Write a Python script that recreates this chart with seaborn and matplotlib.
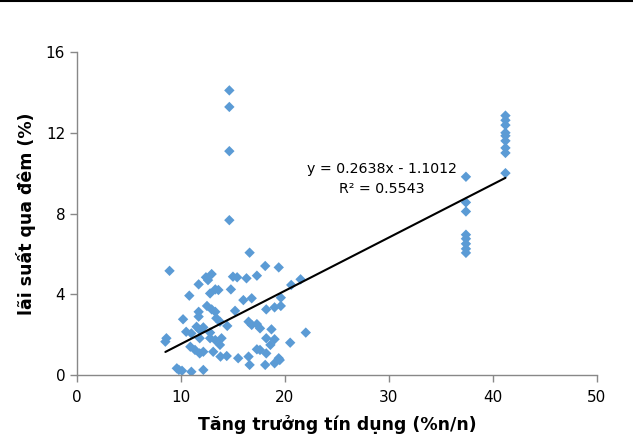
import matplotlib
matplotlib.use("Agg")
import matplotlib.pyplot as plt
from matplotlib.lines import Line2D
import numpy as np
import pandas as pd
import seaborn as sns

# Credit growth (%y/y) vs overnight interbank rate (%)
credit_growth = [
    8.9, 16.6, 18.1, 19.4, 12.4, 12.95, 12.6, 11.7, 15.0, 15.4, 16.3, 17.3,
    13.3, 13.6, 12.8, 10.8, 14.8, 21.5, 20.6, 19.6, 16.0, 16.8,
    12.5, 12.95, 13.3, 11.7, 11.7, 15.2, 18.2, 19.0, 19.6,
    10.2, 13.4, 13.75, 16.5, 16.8, 17.3, 17.6, 11.5, 11.8, 12.15, 10.5, 11.0,
    14.45, 18.7, 22.0, 8.6, 8.5, 12.8, 12.8, 13.3, 13.9, 13.75, 11.8,
    18.2, 19.0, 18.6, 20.5, 10.9, 11.35, 11.8, 12.15, 13.1, 17.3, 17.6, 18.2,
    13.8, 14.4, 15.5, 16.5, 16.6, 18.1, 19.0, 19.4, 19.5,
    9.6, 9.8, 10.1, 11.0, 12.15,
    14.65, 14.65, 14.65, 14.65,
    37.4, 37.4, 37.4, 37.4, 37.4, 37.4, 37.4, 37.4,
    41.2, 41.2, 41.2, 41.2, 41.2, 41.2, 41.2, 41.2, 41.2,
]
overnight_rate = [
    5.16, 6.06, 5.40, 5.33, 4.84, 5.00, 4.70, 4.49, 4.87, 4.84, 4.79, 4.92,
    4.24, 4.21, 4.04, 3.93, 4.24, 4.74, 4.46, 3.83, 3.71, 3.80,
    3.42, 3.25, 3.13, 3.13, 2.89, 3.18, 3.25, 3.35, 3.42,
    2.76, 2.81, 2.64, 2.64, 2.48, 2.52, 2.31, 2.39, 2.23, 2.36, 2.14, 2.06,
    2.43, 2.26, 2.10, 1.82, 1.65, 2.10, 1.82, 1.73, 1.82, 1.49, 1.82,
    1.82, 1.77, 1.49, 1.60, 1.40, 1.24, 1.07, 1.15, 1.15, 1.27, 1.24, 1.07,
    0.91, 0.94, 0.83, 0.91, 0.50, 0.50, 0.58, 0.83, 0.74,
    0.33, 0.25, 0.21, 0.16, 0.25,
    14.1, 13.28, 11.09, 7.67,
    9.82, 8.55, 8.1, 6.95, 6.75, 6.5, 6.25, 6.05,
    12.85, 12.62, 12.38, 12.0, 11.85, 11.6, 11.25, 11.0, 10.0,
]

# Linear trendline as reported on the chart
slope = 0.2638
intercept = -1.1012
r_squared = 0.5543

df = pd.DataFrame({"x": credit_growth, "y": overnight_rate})

sns.set_style("white")
plt.rcParams["font.family"] = ["DejaVu Sans"]
plt.rcParams["text.color"] = "black"
plt.rcParams["axes.labelcolor"] = "black"

fig = plt.figure(figsize=(6.33, 4.41), dpi=100)
ax = fig.add_axes([0.1216, 0.1497, 0.8215, 0.7323])

sns.scatterplot(data=df, x="x", y="y", marker="D", s=28, color="#5B9BD5",
                edgecolor="none", linewidth=0, ax=ax, zorder=2)

x_fit = np.array([df["x"].min(), df["x"].max()])
fit = pd.DataFrame({"x": x_fit, "y": slope * x_fit + intercept})
sns.lineplot(data=fit, x="x", y="y", color="black", linewidth=1.5, ax=ax, zorder=3)

ax.text(29.3, 9.7, f"y = {slope:.4f}x - {abs(intercept):.4f}\nR² = {r_squared:.4f}",
        ha="center", va="center", multialignment="center", fontsize=10.2,
        linespacing=1.5, color="black", zorder=4)

ax.set_xlim(0, 50)
ax.set_ylim(0, 16)
ax.set_xticks(range(0, 51, 10))
ax.set_yticks(range(0, 17, 4))
ax.set_xlabel("Tăng trưởng tín dụng (%n/n)", fontsize=12.5, fontweight="bold", labelpad=7)
ax.set_ylabel("lãi suất qua đêm (%)", fontsize=12.5, fontweight="bold", labelpad=7)

for side in ["top", "right"]:
    ax.spines[side].set_visible(False)
for side in ["left", "bottom"]:
    ax.spines[side].set_color("#888888")
    ax.spines[side].set_linewidth(1)
ax.tick_params(axis="both", direction="out", length=5, width=1, color="#888888",
               labelsize=11, labelcolor="black", left=True, bottom=True)
ax.tick_params(axis="x", pad=6)

fig.add_artist(Line2D([0, 1], [0.998, 0.998], color="black", linewidth=1.5,
                      transform=fig.transFigure))

fig.savefig("out.png", dpi=100)
